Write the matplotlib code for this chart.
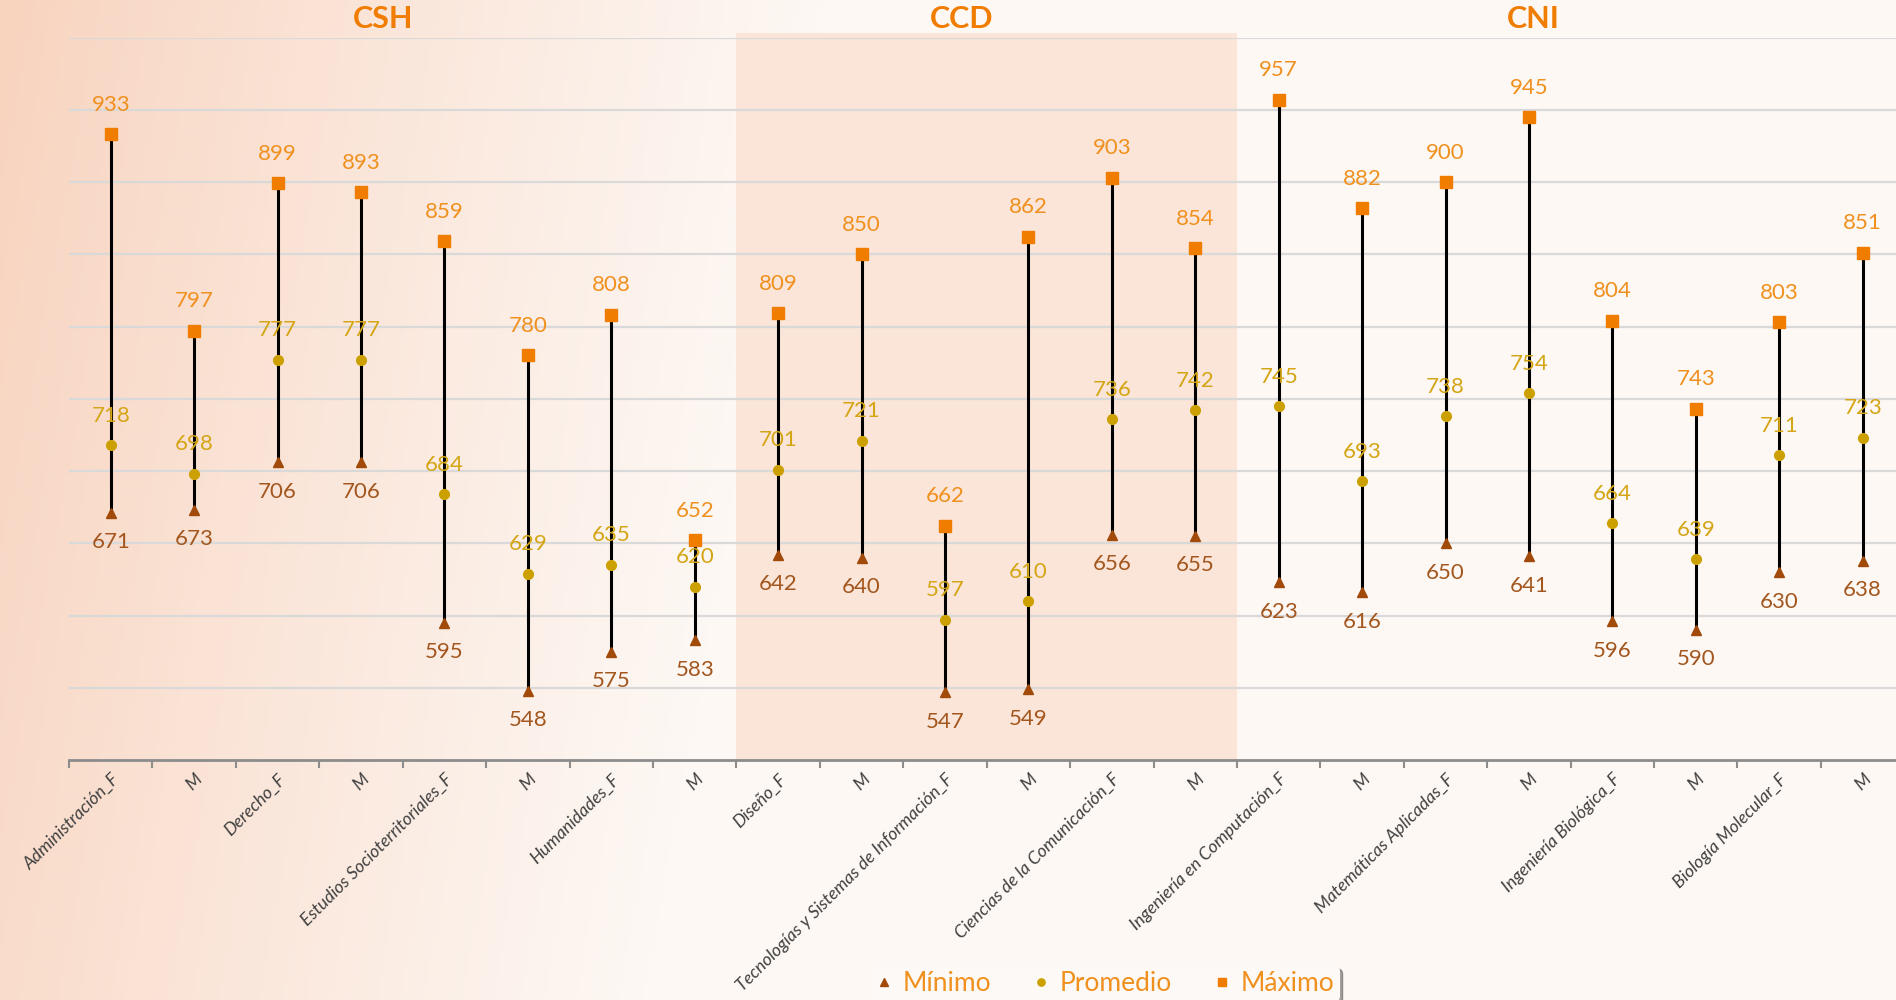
import numpy as np
import matplotlib
matplotlib.use("Agg")
import matplotlib.pyplot as plt
from matplotlib.transforms import blended_transform_factory
from matplotlib.patches import Rectangle

plt.rcParams['font.family'] = ['Lato', 'DejaVu Sans']

# categories (F / M per program)
categories = [
    "Administración_F", "M", "Derecho_F", "M",
    "Estudios Socioterritoriales_F", "M", "Humanidades_F", "M",
    "Diseño_F", "M", "Tecnologías y Sistemas de Información_F", "M",
    "Ciencias de la Comunicación_F", "M",
    "Ingeniería en Computación_F", "M", "Matemáticas Aplicadas_F", "M",
    "Ingeniería Biológica_F", "M", "Biología Molecular_F", "M",
]
maximo = [933, 797, 899, 893, 859, 780, 808, 652,
          809, 850, 662, 862, 903, 854,
          957, 882, 900, 945, 804, 743, 803, 851]
promedio = [718, 698, 777, 777, 684, 629, 635, 620,
            701, 721, 597, 610, 736, 742,
            745, 693, 738, 754, 664, 639, 711, 723]
minimo = [671, 673, 706, 706, 595, 548, 575, 583,
          642, 640, 547, 549, 656, 655,
          623, 616, 650, 641, 596, 590, 630, 638]

groups = ["CSH", "CCD", "CNI"]
group_pos = [3.27, 10.2, 17.05]

C_MAX = "#F07C00"
C_AVG = "#CCA000"
C_MIN = "#A14A0A"
T_MAX = "#F0901E"
T_AVG = "#D4A514"
T_MIN = "#A3561E"

fig = plt.figure(figsize=(18.96, 10), dpi=100)

# background gradient
bg = fig.add_axes([0, 0, 1, 1], zorder=-10)
H, W = 200, 380
yy, xx = np.mgrid[0:H, 0:W]
t = (xx / W * 1896 + 0.18 * yy / H * 1000) / 820.0
t = np.clip(t, 0, 1) ** 0.9
c0 = np.array([248, 211, 190]) / 255
c1 = np.array([253, 248, 244]) / 255
img = c0[None, None, :] * (1 - t[..., None]) + c1[None, None, :] * t[..., None]
bg.imshow(img, aspect='auto', extent=[0, 1, 0, 1], origin='upper')
bg.axis('off')

ax = fig.add_axes([0.0364, 0.24, 0.968, 0.7225])
ax.patch.set_alpha(0)
x = np.arange(len(categories))

ax.add_patch(Rectangle((7.5, 500), 6, 503, facecolor="#FAE5D8",
                       edgecolor='none', zorder=0, clip_on=False))

for yv in range(550, 1001, 50):
    ax.axhline(yv, color="#D9D9D9", lw=1.6, zorder=1)

ax.vlines(x, minimo, maximo, color="black", lw=2.2, zorder=2)
ax.plot(x, minimo, '^', color=C_MIN, ms=7.5, ls='none', zorder=3, label="Mínimo")
ax.plot(x, promedio, 'o', color=C_AVG, ms=7, ls='none', zorder=3, label="Promedio")
ax.plot(x, maximo, 's', color=C_MAX, ms=8, ls='none', zorder=3, label="Máximo")

for xi, a, b, c in zip(x, maximo, promedio, minimo):
    ax.annotate(str(a), (xi, a), xytext=(0, 14), textcoords='offset points',
                ha='center', va='bottom', color=T_MAX, fontsize=16)
    ax.annotate(str(b), (xi, b), xytext=(0, 14), textcoords='offset points',
                ha='center', va='bottom', color=T_AVG, fontsize=16)
    ax.annotate(str(c), (xi, c), xytext=(0, -14), textcoords='offset points',
                ha='center', va='top', color=T_MIN, fontsize=16)

ax.set_xlim(-0.5, len(categories) - 0.5)
ax.set_ylim(500, 1000)
ax.set_yticks([])
for s in ['left', 'right', 'top']:
    ax.spines[s].set_visible(False)
ax.spines['bottom'].set_color("#8C8C8C")
ax.spines['bottom'].set_linewidth(2)

ax.set_xticks(np.arange(-0.5, len(categories), 1))
ax.set_xticklabels([])
ax.tick_params(axis='x', which='major', length=6, width=1.5, color="#8C8C8C")
ax.set_xticks(x, minor=True)
ax.set_xticklabels(categories, minor=True, rotation=45, ha='right',
                   rotation_mode='anchor', fontsize=12.7, style='italic',
                   color="#404040")
ax.tick_params(axis='x', which='minor', length=0, pad=8)

tr = blended_transform_factory(ax.transData, fig.transFigure)
for g, gp in zip(groups, group_pos):
    fig.text(gp, 0.981, g, transform=tr, ha='center', va='center',
             fontsize=22, fontweight='bold', color="#F07C00")

leg = fig.legend(loc='upper center', bbox_to_anchor=(0.583, 0.047), ncol=3,
                 frameon=True, fontsize=19, markerscale=0.75, handlelength=0.6,
                 handletextpad=0.4, columnspacing=1.6, shadow=True,
                 borderpad=0.2)
leg.get_frame().set_facecolor("#FDF9F6")
leg.get_frame().set_edgecolor("none")
for txt in leg.get_texts():
    txt.set_color(T_MAX)

fig.savefig("out.png", dpi=100)
